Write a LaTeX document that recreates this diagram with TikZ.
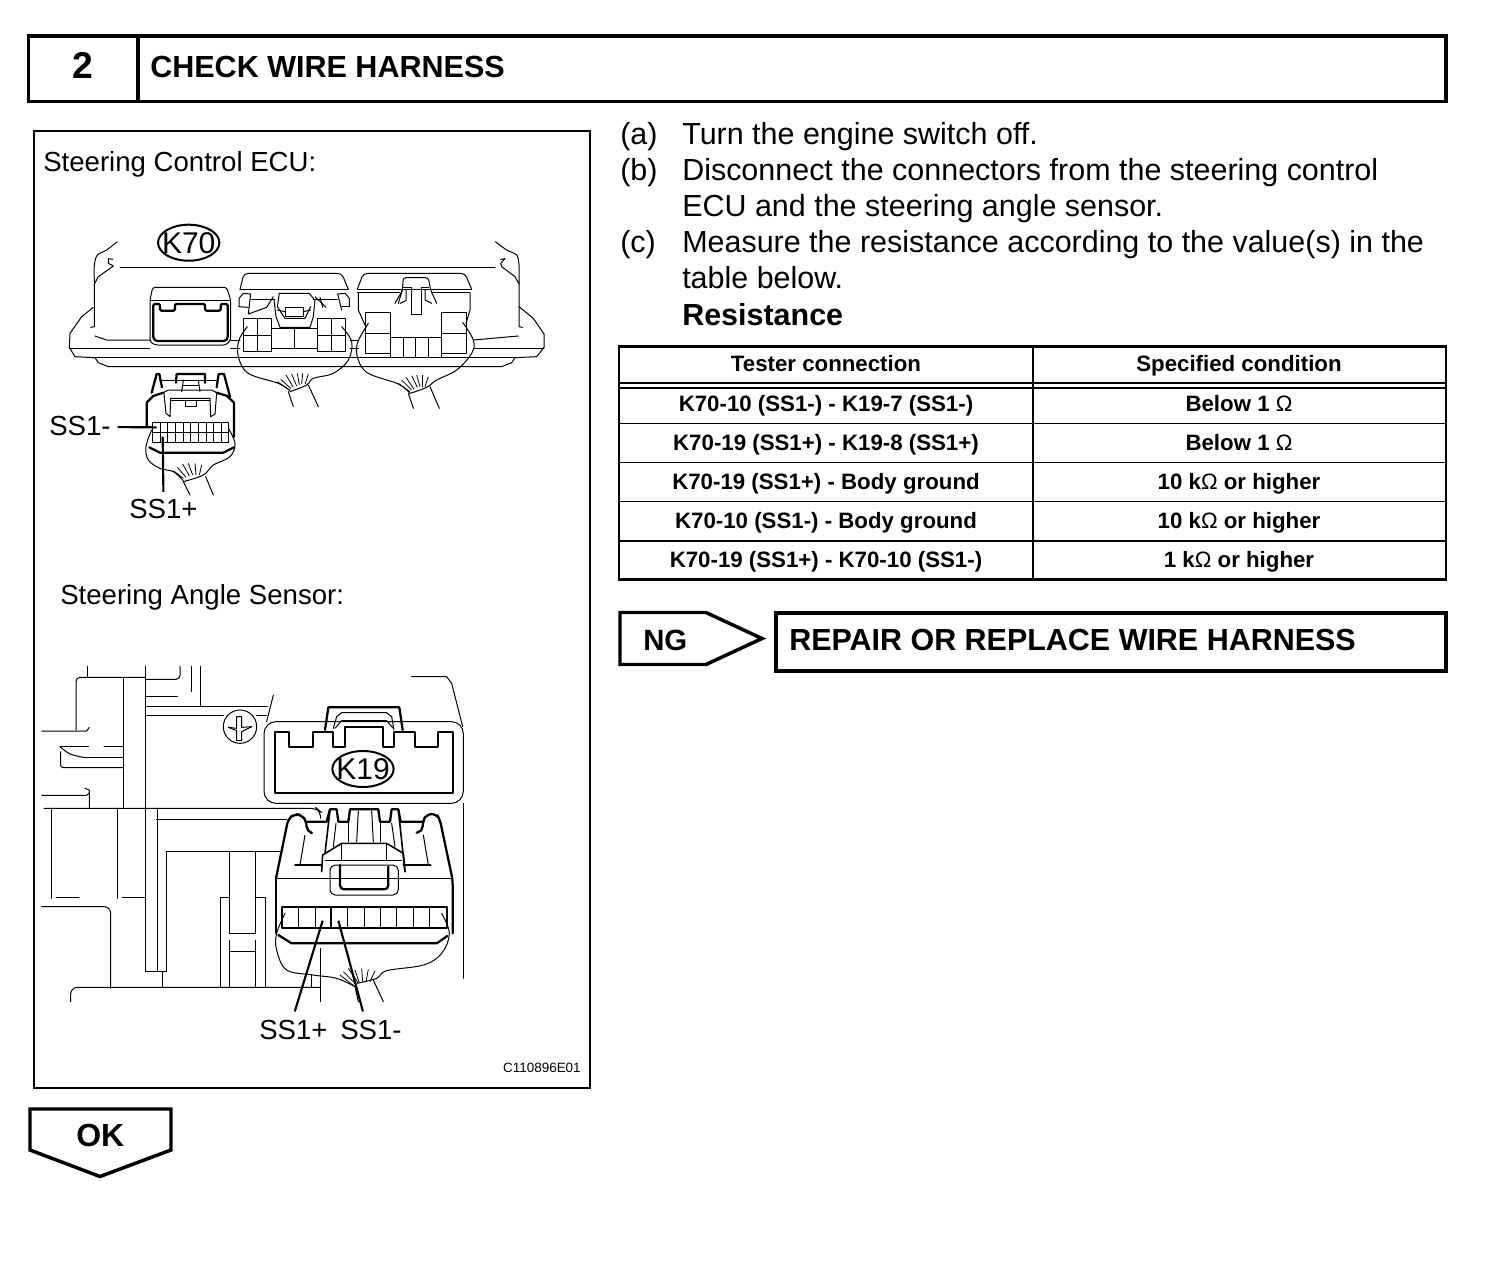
\documentclass[tikz,border=0pt]{standalone}
\usepackage{fontspec}
\setmainfont{Liberation Sans}
\usetikzlibrary{shapes.geometric}
\newcommand{\fsz}[1]{\fontsize{#1}{#1}\selectfont}
\tikzset{
  box/.style={draw=black,line width=2.6pt,fill=white,line join=miter},
  panel/.style={draw=black,line width=1.6pt},
  rule/.style={draw=black,line width=1.9pt},
  txt/.style={inner sep=0pt,anchor=base west,text=black},
  steps/.style={txt,font=\fsz{22.85}},
  lab/.style={txt,font=\fsz{20.7}},
  cell/.style={inner sep=0pt,anchor=base,font=\fsz{16.7}\bfseries},
  tag/.style={draw=black,line width=1.5pt,ellipse,inner sep=0pt,minimum width=46pt,minimum height=27pt,font=\fsz{22.5}},
  thin line/.style={draw=black,line width=.75pt,line join=round,line cap=round},
  fine/.style={draw=black,line width=.6pt,line join=round},
  heavy/.style={draw=black,line width=1.7pt,line join=round,line cap=round},
  leader/.style={draw=black,line width=1.6pt},
  zone a/.style={shift={(40,210)},x=.25pt,y=-.25pt},
  zone b/.style={shift={(40,650)},x=.25pt,y=-.25pt},
}
\begin{document}
\begin{tikzpicture}[x=.75pt,y=-.75pt]
\useasboundingbox (0,0) rectangle (1504,1272);
\fill[white] (0,0) rectangle (1504,1272);
% header
\draw[box] (28.5,36) rectangle (1446,101.5);
\draw[box] (138,36) -- (138,101.5);
\node[txt,anchor=base,font=\fsz{28}\bfseries] (num) at (83,78) {2};
\node[txt,font=\fsz{22.9}\bfseries] (title) at (150,77) {CHECK WIRE HARNESS};
% figure panel
\draw[panel] (34,131) rectangle (590,1088);
\node[lab] (ecu) at (43,171) {Steering Control ECU:};
\node[lab] (sas) at (60,604) {Steering Angle Sensor:};
\node[txt,anchor=base east,font=\fsz{10.1}] (code) at (581,1072) {C110896E01};
% steps
\node[steps] (sa) at (620,144) {(a)};
\node[steps] (ta) at (682,144) {Turn the engine switch off.};
\node[steps] (sb) at (620,180) {(b)};
\node[steps] (tb) at (682,180) {Disconnect the connectors from the steering control};
\node[steps] (tb2) at (682,216) {ECU and the steering angle sensor.};
\node[steps] (sc) at (620,252) {(c)};
\node[steps] (tc) at (682,252) {Measure the resistance according to the value(s) in the};
\node[steps] (tc2) at (682,288) {table below.};
\node[steps,font=\fsz{22.85}\bfseries] (res) at (682,325) {Resistance};
% table
\draw[rule] (619,346.5) rectangle (1446,579.5);
\draw[rule] (1033,346.5) -- (1033,579.5);
\foreach \yy in {383,388,423.5,462.5,501.5,541}{\draw[rule,line width=1.4pt] (619,\yy) -- (1446,\yy);}
\node[cell] (h1) at (826,371.5) {Tester connection};
\node[cell] (h2) at (1239,371.5) {Specified condition};
\node[cell] (a1) at (826,411) {K70-10 (SS1-) - K19-7 (SS1-)};
\node[cell] (b1) at (1239,411) {Below 1 \textmd{Ω}};
\node[cell] (a2) at (826,450) {K70-19 (SS1+) - K19-8 (SS1+)};
\node[cell] (b2) at (1239,450) {Below 1 \textmd{Ω}};
\node[cell] (a3) at (826,489) {K70-19 (SS1+) - Body ground};
\node[cell] (b3) at (1239,489) {10 k\textmd{Ω} or higher};
\node[cell] (a4) at (826,528) {K70-10 (SS1-) - Body ground};
\node[cell] (b4) at (1239,528) {10 k\textmd{Ω} or higher};
\node[cell] (a5) at (826,567) {K70-19 (SS1+) - K70-10 (SS1-)};
\node[cell] (b5) at (1239,567) {1 k\textmd{Ω} or higher};
% NG
\draw[box] (620,612.5) -- (706,612.5) -- (762,638.5) -- (706,664.5) -- (620,664.5) -- cycle;
\node[txt,font=\fsz{22}\bfseries] (ng) at (643,650) {NG};
\draw[box] (776,613) rectangle (1446,671);
\node[txt,font=\fsz{22.85}\bfseries] (rep) at (789,650) {REPAIR OR REPLACE WIRE HARNESS};
% OK
\draw[box] (30,1109) -- (171,1109) -- (171,1150) -- (100,1176.5) -- (30,1150) -- cycle;
\node[txt,font=\fsz{24}\bfseries] (ok) at (76,1146) {OK};
% ---------- ECU drawing ----------
\begin{scope}[zone a]
\draw[thin line] (240,172) -- (1365,172);
% body, left
\draw[thin line] plot[smooth] coordinates {(232,95) (200,120) (172,135) (163,165) (163,215)};
\draw[thin line] (163,215) -- (163,350) -- (152,352);
\draw[thin line] (218,148) -- (205,146) -- (205,160) -- (220,168) -- (175,200) -- (163,222);
\draw[thin line] (160,292) -- (125,320) -- (90,370) -- (88,412) -- (105,440) -- (165,443) -- (175,458) -- (205,470) -- (1385,470) -- (1415,458) -- (1425,443) -- (1490,440) -- (1512,412) -- (1512,372) -- (1480,325) -- (1437,290);
\draw[thin line] (165,443) -- (1425,443);
\draw[thin line] (88,414) -- (330,414);
\draw[thin line] (165,378) -- (200,390) -- (330,390);
% body, right
\draw[thin line] plot[smooth] coordinates {(1366,95) (1400,120) (1430,135) (1437,165) (1437,215)};
\draw[thin line] (1437,215) -- (1437,350) -- (1448,352);
\draw[thin line] (1382,148) -- (1395,146) -- (1382,160) -- (1385,170) -- (1425,200) -- (1437,222);
\draw[thin line] (1300,390) -- (1435,378);
\draw[thin line] (1300,414) -- (1512,414);
\draw[thin line] (572,390) -- (600,390);
\draw[thin line] (572,414) -- (600,414);
\draw[thin line] (930,390) -- (955,390);
\draw[thin line] (930,414) -- (955,414);
% left socket
\draw[thin line,rounded corners=2pt] (330,395) -- (330,270) -- (338,232) -- (560,232) -- (572,270) -- (572,390) -- (558,405) -- (345,405) -- cycle;
\draw[thin line] (330,270) -- (572,270);
\draw[heavy,rounded corners=1pt] (340,282) -- (360,282) -- (360,302) -- (405,302) -- (405,282) -- (495,282) -- (495,302) -- (542,302) -- (542,282) -- (563,282) -- (563,385) -- (555,393) -- (348,393) -- (340,385) -- cycle;
% middle socket
\draw[thin line,rounded corners=3pt] (600,238) -- (612,190) -- (905,190) -- (925,238);
\draw[thin line] (600,238) -- (925,238);
\draw[thin line] (597,290) -- (597,265) -- (610,250) -- (632,252) -- (625,312) -- (680,292) -- (700,260);
\draw[thin line] (928,290) -- (928,265) -- (915,250) -- (893,252) -- (905,300);
\draw[thin line] (597,290) -- (625,292);
\draw[thin line] (905,290) -- (928,290);
\draw[thin line] (635,268) -- (705,268);
\draw[thin line] (820,268) -- (892,268);
\draw[thin line] (825,260) -- (858,292);
\draw[thin line] (840,262) -- (848,292);
\draw[thin line] (702,270) -- (708,320) -- (720,352) -- (810,352) -- (820,320) -- (825,270);
\draw[thin line] (718,250) -- (808,250) -- (822,268);
\draw[thin line] (718,250) -- (712,290) -- (735,325) -- (795,325) -- (812,290);
\draw[thin line] (735,292) -- (790,292) -- (790,318) -- (735,318) -- cycle;
\draw[thin line] (712,300) -- (735,305);
\draw[thin line] (790,305) -- (812,300);
\foreach \xa/\xb/\xc in {610/652/695,833/875/917}{
 \draw[thin line] (\xa,325) rectangle (\xc,425);
 \draw[thin line] (\xb,325) -- (\xb,425);
 \draw[thin line] (\xa,375) -- (\xc,375);
}
\draw[thin line] (695,355) -- (833,355);
\draw[thin line] (695,415) -- (833,415);
\draw[thin line] (763,355) -- (763,415);
% right socket
\draw[thin line,rounded corners=3pt] (952,238) -- (970,190) -- (1275,190) -- (1295,238);
\draw[thin line] (952,238) -- (1295,238);
\draw[thin line] (952,248) -- (1078,248);
\draw[thin line] (1175,248) -- (1290,248);
\draw[thin line] (955,250) -- (955,300) -- (975,345);
\draw[thin line] (1290,250) -- (1290,300) -- (1278,340);
\draw[thin line,rounded corners=2pt] (1075,280) -- (1087,240) -- (1090,203) -- (1165,203) -- (1172,240) -- (1190,280);
\draw[thin line] (1090,232) -- (1115,232) -- (1115,312) -- (1145,312) -- (1145,232) -- (1165,232);
\draw[thin line] (1065,280) -- (1088,240);
\draw[thin line] (1155,240) -- (1155,270) -- (1175,280);
\draw[thin line] (1098,240) -- (1098,272) -- (1080,280);
\draw[thin line] (975,307) rectangle (1052,430);
\draw[thin line] (975,370) -- (1052,370);
\draw[thin line] (1205,307) rectangle (1278,430);
\draw[thin line] (1205,370) -- (1278,370);
\draw[thin line] (1052,382) -- (1205,382);
\draw[thin line] (1052,442) -- (1205,442);
\foreach \xx in {1052,1090,1127,1165,1205}{\draw[thin line] (\xx,382) -- (\xx,442);}
% harnesses
\draw[thin line] plot[smooth,tension=.6] coordinates {(622,350) (597,390) (595,440) (625,490) (715,520) (750,542)};
\draw[thin line] plot[smooth,tension=.6] coordinates {(905,350) (935,395) (925,450) (880,490) (820,505) (800,525) (750,545)};
\draw[thin line] (745,545) -- (760,590);
\draw[thin line] (805,525) -- (835,590);
\foreach \xa/\ya/\xb/\yb in {712/515/748/540,722/508/752/535,738/495/760/532,755/492/770/528,772/490/778/525,788/490/785/522,805/492/795/522}{\draw[fine] (\xa,\ya) -- (\xb,\yb);}
\draw[thin line] plot[smooth,tension=.6] coordinates {(985,340) (952,400) (955,450) (985,490) (1075,522) (1110,550)};
\draw[thin line] plot[smooth,tension=.6] coordinates {(1268,337) (1300,390) (1295,430) (1250,480) (1190,510) (1160,532) (1110,550)};
\draw[thin line] (1105,550) -- (1120,595);
\draw[thin line] (1170,530) -- (1198,595);
\foreach \xa/\ya/\xb/\yb in {1075/520/1110/545,1085/510/1115/540,1098/502/1122/538,1115/497/1132/532,1130/495/1140/530,1148/495/1148/530,1165/500/1155/530}{\draw[fine] (\xa,\ya) -- (\xb,\yb);}
% plug
\draw[heavy] (335,548) -- (350,492) -- (358,492) -- (366,532);
\draw[heavy] (408,518) -- (410,492) -- (495,492) -- (495,518);
\draw[heavy] (530,532) -- (536,492) -- (552,492) -- (570,560);
\draw[thin line] (360,510) -- (530,510);
\draw[thin line] (430,510) -- (425,545);
\draw[thin line] (475,510) -- (480,545);
\draw[thin line] (430,525) -- (475,525);
\draw[heavy] (320,650) -- (320,578) -- (340,558) -- (370,548);
\draw[heavy] (530,548) -- (562,558) -- (582,578) -- (582,680);
\draw[thin line] (370,548) -- (385,540) -- (515,540) -- (530,548);
\draw[thin line] (372,550) -- (378,610) -- (390,620) -- (392,565) -- (510,565) -- (512,620) -- (525,612) -- (530,550);
\draw[thin line] (395,572) -- (510,572);
\draw[thin line] (435,572) rectangle (468,588);
\draw[thin line] (338,637) rectangle (565,697);
\draw[thin line] (338,667) -- (565,667);
\foreach \xx in {360,383,406,429,452,475,498,521,544}{\draw[thin line] (\xx,637) -- (\xx,697);}
\draw[heavy] (328,712) -- (360,728) -- (550,728) -- (582,712);
\draw[thin line] plot[smooth,tension=.6] coordinates {(335,660) (318,710) (325,750) (360,775) (400,785) (430,812)};
\draw[thin line] plot[smooth,tension=.6] coordinates {(565,655) (585,700) (570,740) (520,765) (490,795) (430,815)};
\draw[thin line] (430,815) -- (450,855);
\draw[thin line] (497,800) -- (520,855);
\foreach \xa/\ya/\xb/\yb in {400/782/430/805,412/772/438/802,428/762/448/798,445/760/458/795,465/760/468/795,485/765/478/795}{\draw[fine] (\xa,\ya) -- (\xb,\yb);}
\coordinate (pinm) at (350,652);
\coordinate (pinp) at (368,680);
\end{scope}
\node[tag] (k70) at (188.7,242.7) {\makebox[0pt]{K70}};
\node[lab] (ssma) at (49,435) {SS1-};
\node[lab] (sspa) at (129,518) {SS1+};
\draw[leader] ([xshift=5pt,yshift=-1.2pt]ssma.east) -- (pinm);
\draw[leader] ([yshift=5pt]sspa.north) -- (pinp);
% ---------- sensor drawing ----------
\begin{scope}[zone b]
% background
\draw[thin line] (143,48) -- (143,82);
\draw[thin line,rounded corners=3pt] (108,240) -- (108,82) -- (316,82);
\draw[thin line,rounded corners=3pt] (318,88) -- (420,88) -- (420,48);
\draw[thin line] (316,48) -- (316,965);
\draw[thin line] (250,82) -- (250,475);
\draw[thin line] (455,48) -- (455,125);
\draw[thin line] (481,48) -- (481,168);
\draw[thin line] (315,138) -- (412,138);
\draw[thin line] (315,168) -- (682,168);
\draw[thin line] (315,195) -- (550,195);
\draw[thin line] (650,195) -- (680,195);
\draw[thin line] (700,135) -- (680,215);
\draw[thin line] (1115,80) -- (1220,80) -- (1235,100) -- (1268,230);
\draw[thin line] (1270,460) -- (1270,985);
\draw[thin line] (5,243) -- (140,243) -- (148,232);
\draw[thin line] plot[smooth,tension=.5] coordinates {(60,290) (90,312) (130,322)};
\draw[thin line] (130,322) -- (250,322);
\draw[thin line] (60,290) -- (145,290);
\draw[thin line] (192,290) -- (250,290);
\draw[thin line,rounded corners=2pt] (62,305) -- (62,353) -- (250,353);
\draw[thin line] (5,436) -- (140,436) -- (148,428) -- (148,475);
\draw[thin line] (135,415) -- (148,420) -- (148,430);
\draw[thin line,rounded corners=5pt] (12,475) -- (830,475) -- (842,485) -- (842,505);
\draw[thin line] (35,475) -- (35,745);
\draw[thin line] (232,475) -- (232,745);
\draw[thin line] (48,743) -- (117,743);
\draw[thin line] (247,743) -- (316,743);
\draw[thin line,rounded corners=5pt] (5,770) -- (212,770) -- (212,1015);
\draw[thin line] (353,475) -- (353,965);
\draw[thin line] (350,508) -- (740,508);
\draw[thin line] (380,605) -- (720,605);
\draw[thin line] (380,605) -- (380,965);
\draw[thin line] (316,965) -- (380,965);
\draw[thin line] (367,965) -- (367,1012);
\draw[thin line,rounded corners=5pt] (92,1055) -- (92,1012) -- (840,1012);
\draw[thin line] (568,605) -- (568,850);
\draw[thin line] (645,605) -- (645,850);
\draw[thin line] (568,870) -- (568,1012);
\draw[thin line] (645,870) -- (645,1012);
\draw[thin line] (568,850) -- (645,850);
\draw[thin line] (568,905) -- (645,905);
\draw[thin line] (568,743) -- (540,743) -- (540,1012);
\draw[thin line] (645,743) -- (676,743) -- (676,1012);
\draw[thin line] (840,895) -- (840,1055);
\draw[thin line] (815,975) -- (815,1012);
% screw
\draw[thin line,fill=white] (600,230) circle (50);
\draw[thin line] (565,232) -- (590,235) -- (590,200) -- (605,200) -- (605,232) -- (635,230);
\draw[thin line] (565,232) -- (590,242) -- (590,272) -- (605,272) -- (605,245) -- (635,230);
% plate
\draw[thin line,rounded corners=9pt] (672,215) rectangle (1270,460);
\draw[heavy] (705,245) -- (748,245) -- (748,292) -- (818,292) -- (818,245) -- (880,245) -- (880,292) -- (915,292) -- (915,230) -- (1030,230) -- (1030,292) -- (1062,292) -- (1062,245) -- (1125,245) -- (1125,292) -- (1195,292) -- (1195,245) -- (1238,245) -- (1238,430) -- (705,430) -- cycle;
\draw[heavy] (855,240) -- (865,172) -- (1078,172) -- (1088,240);
\draw[thin line] (880,235) -- (890,200) -- (905,188) -- (1040,188) -- (1055,200) -- (1062,240);
\draw[thin line] (885,235) -- (905,212) -- (1040,212) -- (1060,235);
% plug
\draw[heavy,rounded corners=4pt] (708,685) -- (745,505) -- (765,492) -- (785,495) -- (800,515) -- (800,545) -- (812,548);
\draw[heavy] (800,515) -- (860,515) -- (870,478) -- (890,478) -- (895,515) -- (925,515) -- (930,478) -- (1015,478) -- (1020,515) -- (1050,515) -- (1055,478) -- (1075,478) -- (1082,515) -- (1148,515);
\draw[heavy,rounded corners=4pt] (1130,548) -- (1148,545) -- (1148,515) -- (1160,492) -- (1190,492) -- (1200,510) -- (1238,690) -- (1238,850);
\draw[heavy] (708,685) -- (708,850);
\draw[thin line] (708,685) -- (1238,685);
\draw[heavy,line width=1.2pt] (765,645) -- (845,645);
\draw[heavy,line width=1.2pt] (1090,645) -- (1172,645);
\draw[thin line] (795,555) -- (780,645);
\draw[thin line] (1150,555) -- (1165,645);
\draw[heavy,line width=1.2pt] (870,480) -- (855,610);
\draw[thin line] (888,520) -- (880,590);
\draw[heavy,line width=1.2pt] (1075,480) -- (1095,665);
\draw[thin line] (1055,520) -- (1065,590);
\draw[heavy,line width=1.2pt] (845,665) -- (848,615) -- (905,580) -- (1040,580) -- (1090,610) -- (1095,665);
\draw[thin line] (855,630) -- (1085,630);
\draw[thin line] (905,580) -- (905,630);
\draw[thin line] (1040,580) -- (1040,630);
\draw[thin line,rounded corners=4pt] (870,735) -- (870,645) -- (1075,645) -- (1075,735) -- cycle;
\draw[heavy,rounded corners=3pt] (900,645) -- (900,718) -- (1045,718) -- (1045,650);
\draw[thin line] (925,515) -- (925,575);
\draw[thin line] (955,482) -- (950,575);
\draw[thin line] (995,482) -- (1000,575);
\draw[thin line] (1020,515) -- (1020,575);
% pins
\draw[heavy] (725,835) -- (725,772) -- (1220,772) -- (1220,835) -- cycle;
\foreach \xx in {775,825,922,972,1022,1070,1120,1168}{\draw[thin line] (\xx,772) -- (\xx,835);}
\draw[heavy] (872,772) -- (872,835);
\draw[heavy] (715,855) -- (755,880) -- (1190,880) -- (1222,858);
% harness
\draw[thin line] plot[smooth,tension=.6] coordinates {(735,790) (710,850) (710,900) (740,960) (820,975) (890,985) (945,1010)};
\draw[thin line] plot[smooth,tension=.6] coordinates {(1205,790) (1228,850) (1205,910) (1150,945) (1040,962) (1010,985) (950,1000)};
\draw[thin line] (945,1010) -- (955,1055);
\draw[thin line] (1000,990) -- (1030,1055);
\foreach \xa/\ya/\xb/\yb in {900/975/945/1010,910/965/950/1005,925/955/955/1000,945/960/958/998,965/955/968/995,985/958/978/995,1005/962/990/995}{\draw[fine] (\xa,\ya) -- (\xb,\yb);}
\coordinate (pinp2) at (848,812);
\coordinate (pinm2) at (895,812);
\end{scope}
\node[tag] (k19) at (363,769) {\makebox[0pt]{K19}};
\node[lab] (sspb) at (259,1039) {SS1+};
\node[lab] (ssmb) at (340,1039) {SS1-};
\draw[leader] ([xshift=1pt,yshift=6pt]sspb.north) -- (pinp2);
\draw[leader] ([xshift=-6pt,yshift=6pt]ssmb.north) -- (pinm2);
\end{tikzpicture}
\end{document}
